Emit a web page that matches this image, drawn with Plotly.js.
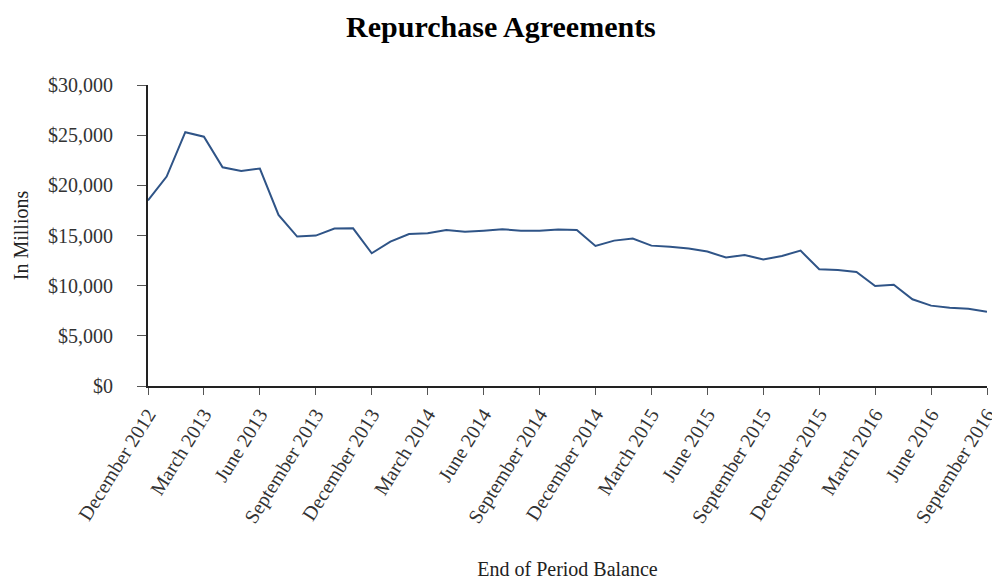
<!DOCTYPE html>
<html>
<head>
<meta charset="utf-8">
<script src="https://cdn.plot.ly/plotly-3.0.1.min.js"></script>
<style>html,body{margin:0;padding:0;background:#fff;}#chart{width:992px;height:580px;}</style>
</head>
<body>
<div id="chart"></div>
<script>
const months = [
  "December 2012","January 2013","February 2013","March 2013","April 2013","May 2013","June 2013",
  "July 2013","August 2013","September 2013","October 2013","November 2013","December 2013",
  "January 2014","February 2014","March 2014","April 2014","May 2014","June 2014",
  "July 2014","August 2014","September 2014","October 2014","November 2014","December 2014",
  "January 2015","February 2015","March 2015","April 2015","May 2015","June 2015",
  "July 2015","August 2015","September 2015","October 2015","November 2015","December 2015",
  "January 2016","February 2016","March 2016","April 2016","May 2016","June 2016",
  "July 2016","August 2016","September 2016"
];
const balances = [
  18500, 20870, 25300, 24850, 21800, 21430, 21670,
  17050, 14890, 14990, 15690, 15720, 13230,
  14390, 15150, 15220, 15550, 15380, 15480,
  15620, 15480, 15480, 15600, 15550, 13960,
  14490, 14690, 13990, 13890, 13700, 13400,
  12800, 13060, 12600, 12960, 13490, 11630,
  11570, 11370, 9970, 10100, 8640, 8010,
  7810, 7710, 7410
];
const tickLabels = [
  "December 2012","March 2013","June 2013","September 2013","December 2013",
  "March 2014","June 2014","September 2014","December 2014",
  "March 2015","June 2015","September 2015","December 2015",
  "March 2016","June 2016","September 2016"
];

const serif = "Liberation Serif, Times New Roman, serif";

Plotly.newPlot("chart", [{
  type: "scatter",
  mode: "lines",
  x: months,
  y: balances,
  line: {color: "#2f5487", width: 2},
  hoverinfo: "x+y"
}], {
  width: 992, height: 580,
  margin: {l: 148, r: 5, t: 85, b: 194},
  paper_bgcolor: "#fff", plot_bgcolor: "#fff",
  showlegend: false,
  title: {
    text: "<b>Repurchase Agreements</b>",
    font: {family: serif, size: 30, color: "#000"},
    x: 0.505, xanchor: "center", y: 0.955, yanchor: "middle"
  },
  xaxis: {
    type: "category",
    range: [0, months.length - 1],
    tickmode: "array",
    tickvals: tickLabels,
    ticktext: tickLabels,
    tickangle: -58,
    ticks: "outside", ticklen: 7, tickwidth: 1, tickcolor: "#555",
    showline: true, linecolor: "#222", linewidth: 2,
    showgrid: false, zeroline: false,
    tickfont: {family: serif, size: 20, color: "#333"},
    title: {text: "End of Period Balance", font: {family: serif, size: 20, color: "#222"}, standoff: 72}
  },
  yaxis: {
    range: [0, 30000],
    tickmode: "linear", tick0: 0, dtick: 5000,
    tickformat: "$,",
    ticks: "outside", ticklen: 9, tickwidth: 1, tickcolor: "#555",
    ticklabelstandoff: 20,
    showline: true, linecolor: "#222", linewidth: 2,
    showgrid: false, zeroline: false,
    tickfont: {family: serif, size: 20, color: "#333"},
    title: {text: "In Millions", font: {family: serif, size: 20, color: "#222"}, standoff: 14}
  }
}, {displayModeBar: false});
</script>
</body>
</html>
